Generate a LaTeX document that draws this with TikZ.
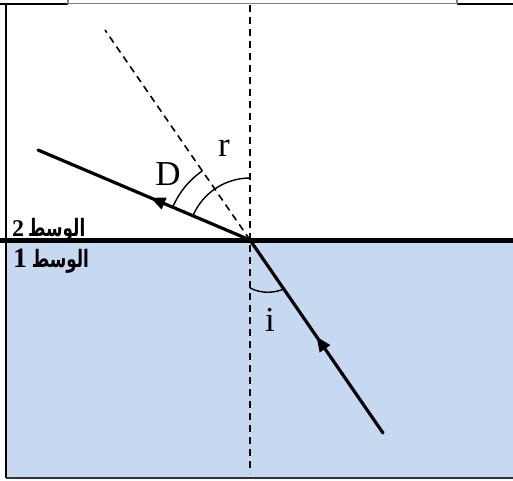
\documentclass[tikz,border=0pt]{standalone}
\usepackage{graphicx}
\usepackage{fontspec}
\setmainfont{Liberation Serif}
\newfontfamily\arabicfont[Script=Arabic]{DejaVu Sans}
\TeXXeTstate=1
\usetikzlibrary{positioning,arrows.meta,decorations.markings}
\definecolor{medblue}{RGB}{198,217,241}
\newcommand\medword{\scalebox{0.7}[1]{\arabicfont\bfseries\fontsize{24}{24}\selectfont\beginR الوسط\endR}}
\tikzset{
  ray/.style={line width=3.2pt,line cap=round},
  midarrow/.style={postaction={decorate},decoration={markings,
            mark=at position #1 with {\arrow{Triangle[length=15pt,width=12pt]}}}},
  guide/.style={line width=1.6pt,dash pattern=on 7pt off 5pt},
  border/.style={line width=1.8pt},
  anglbl/.style={inner sep=0pt,font=\fontsize{35}{35}\selectfont},
  medlbl/.style={inner sep=0pt,anchor=base west},
}
\begin{document}
\begin{tikzpicture}[x=1pt,y=1pt]
  \useasboundingbox (0,0) rectangle (513,-480);
  % lower medium
  \fill[medblue] (6,-240) rectangle (513,-478);
  % frame
  \draw[border] (0,-4) -- (68,-4);
  \draw[border] (457,-4) -- (513,-4);
  \draw[gray,line width=1.2pt] (68,6) rectangle (457,-3.5);
  \draw[border] (6,-4) -- (6,-478);
  \draw[border,black!80] (6,-478) -- (513,-478);
  % points
  \coordinate (O) at (250,-240);
  \coordinate (src) at (383,-433);
  \coordinate (out) at (38,-150);
  \coordinate (ext) at (105,-30);
  \coordinate (ntop) at (250,-5);
  \coordinate (nbot) at (250,-473);
  % normal and extension
  \draw[guide] (ntop) -- (nbot);
  \draw[guide] (O) -- (ext);
  % interface
  \draw[line width=5pt] (0,-240) -- (513,-240);
  % rays
  \draw[ray,midarrow=0.5] (src) -- (O);
  \draw[ray,midarrow=0.47] (O) -- (out);
  % angles
  \draw[line width=1.4pt] (250,-288) .. controls (262,-294) and (274,-293) .. (284,-289);
  \draw[line width=1.4pt] (O) ++(90:62) arc[start angle=90,end angle=157,radius=62];
  \draw[line width=1.4pt] (O) ++(124.6:84) arc[start angle=124.6,end angle=157,radius=84];
  \node[anglbl] (lblD) at (168,-174) {D};
  \node[anglbl] (lblr) at (224,-148) {r};
  \node[anglbl] (lbli) at (270,-320) {i};
  % media
  \node[medlbl,font=\bfseries\fontsize{24}{24}\selectfont] (med2) at (12,-236) {2\,\medword};
  \node[medlbl,font=\bfseries\fontsize{28}{28}\selectfont] (med1) at (13,-267) {1\,\medword};
\end{tikzpicture}
\end{document}
